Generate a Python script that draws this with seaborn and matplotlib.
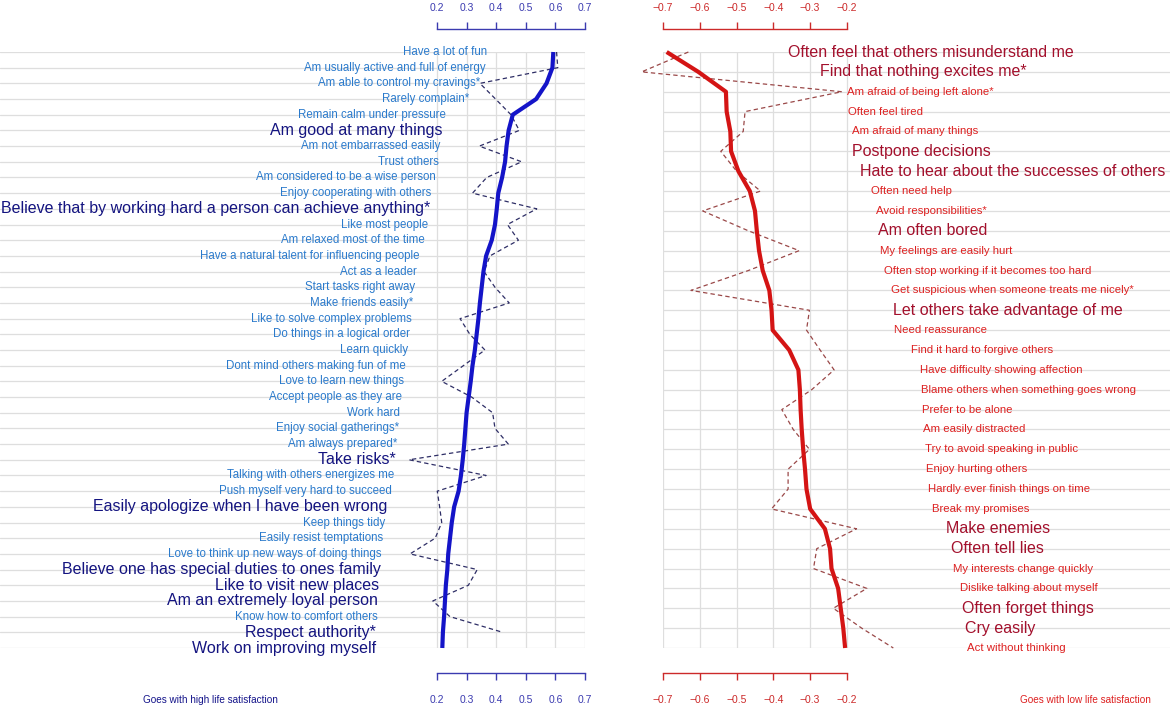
import numpy as np
import pandas as pd
import matplotlib
matplotlib.use("Agg")
import matplotlib.pyplot as plt
import seaborn as sns

sns.set_style("white")
plt.rcParams['font.family'] = ['Liberation Sans', 'DejaVu Sans']

# ---------------- data ----------------
left_labels = [
    "Have a lot of fun", "Am usually active and full of energy", "Am able to control my cravings*",
    "Rarely complain*", "Remain calm under pressure", "Am good at many things",
    "Am not embarrassed easily", "Trust others", "Am considered to be a wise person",
    "Enjoy cooperating with others", "Believe that by working hard a person can achieve anything*",
    "Like most people", "Am relaxed most of the time", "Have a natural talent for influencing people",
    "Act as a leader", "Start tasks right away", "Make friends easily*", "Like to solve complex problems",
    "Do things in a logical order", "Learn quickly", "Dont mind others making fun of me",
    "Love to learn new things", "Accept people as they are", "Work hard", "Enjoy social gatherings*",
    "Am always prepared*", "Take risks*", "Talking with others energizes me",
    "Push myself very hard to succeed", "Easily apologize when I have been wrong", "Keep things tidy",
    "Easily resist temptations", "Love to think up new ways of doing things",
    "Believe one has special duties to ones family", "Like to visit new places",
    "Am an extremely loyal person", "Know how to comfort others", "Respect authority*",
    "Work on improving myself",
]
left_main = [0.593, 0.590, 0.570, 0.535, 0.456, 0.442, 0.435, 0.430, 0.420, 0.407,
             0.402, 0.396, 0.385, 0.366, 0.357, 0.351, 0.345, 0.340, 0.334, 0.328,
             0.320, 0.314, 0.307, 0.300, 0.296, 0.292, 0.287, 0.281, 0.273, 0.258,
             0.250, 0.244, 0.238, 0.235, 0.230, 0.227, 0.224, 0.220, 0.218]
left_alt = [0.604, 0.608, 0.345, 0.398, 0.450, 0.478, 0.343, 0.486, 0.368, 0.320,
            0.537, 0.438, 0.475, 0.379, 0.359, 0.396, 0.444, 0.278, 0.311, 0.362,
            0.289, 0.216, 0.317, 0.388, 0.396, 0.441, 0.106, 0.366, 0.201, 0.209,
            0.216, 0.194, 0.109, 0.336, 0.306, 0.186, 0.244, 0.422, np.nan]
left_emph = [0, 0, 0, 0, 0, 1, 0, 0, 0, 0, 1, 0, 0, 0, 0, 0, 0, 0, 0, 0,
             0, 0, 0, 0, 0, 0, 1, 0, 0, 1, 0, 0, 0, 1, 1, 1, 0, 1, 1]
left_ticks = [0.2, 0.3, 0.4, 0.5, 0.6, 0.7]

right_labels = [
    "Often feel that others misunderstand me", "Find that nothing excites me*",
    "Am afraid of being left alone*", "Often feel tired", "Am afraid of many things",
    "Postpone decisions", "Hate to hear about the successes of others", "Often need help",
    "Avoid responsibilities*", "Am often bored", "My feelings are easily hurt",
    "Often stop working if it becomes too hard", "Get suspicious when someone treats me nicely*",
    "Let others take advantage of me", "Need reassurance", "Find it hard to forgive others",
    "Have difficulty showing affection", "Blame others when something goes wrong",
    "Prefer to be alone", "Am easily distracted", "Try to avoid speaking in public",
    "Enjoy hurting others", "Hardly ever finish things on time", "Break my promises",
    "Make enemies", "Often tell lies", "My interests change quickly",
    "Dislike talking about myself", "Often forget things", "Cry easily", "Act without thinking",
]
right_main = [-0.690, -0.604, -0.529, -0.527, -0.517, -0.515, -0.495, -0.464, -0.450, -0.445,
              -0.439, -0.429, -0.411, -0.405, -0.402, -0.357, -0.332, -0.328, -0.326, -0.323,
              -0.319, -0.314, -0.310, -0.300, -0.260, -0.246, -0.242, -0.224, -0.217, -0.210,
              -0.205]
right_alt = [-0.631, -0.758, -0.214, -0.477, -0.482, -0.543, -0.500, -0.435, -0.592, -0.468,
             -0.330, -0.468, -0.624, -0.302, -0.310, -0.273, -0.235, -0.296, -0.377, -0.346,
             -0.302, -0.360, -0.360, -0.405, -0.174, -0.282, -0.291, -0.146, -0.237, -0.160,
             -0.074]
right_emph = [1, 1, 0, 0, 0, 1, 1, 0, 0, 1, 0, 0, 0, 1, 0, 0, 0, 0, 0, 0,
              0, 0, 0, 0, 1, 1, 0, 0, 1, 1, 0]
right_ticks = [-0.7, -0.6, -0.5, -0.4, -0.3, -0.2]

left_note = "Goes with high life satisfaction"
right_note = "Goes with low life satisfaction"

# ---------------- styling ----------------
W, H = 1170, 712
fig = plt.figure(figsize=(W / 100, H / 100), dpi=100)
PX = 72 / 100  # points per pixel

y_top_px, y_bot_px = 52, 648
ax_bottom = (H - y_bot_px) / H
ax_height = (y_bot_px - y_top_px) / H

axL = fig.add_axes([0.0, ax_bottom, 585 / W, ax_height])
axR = fig.add_axes([663 / W, ax_bottom, (W - 663) / W, ax_height])

BLUE_AX = "#3b3bb0"
RED_AX = "#cc2a2a"
GRID = "#dedede"


def fmt(t):
    return f"{t:.1f}".replace("-", "\u2212")


def setup(ax, n, xlim, ticks, col):
    rows = np.arange(1, n + 1)
    ax.set_xlim(*xlim)
    ax.set_ylim(n, 1)
    ax.set_yticks(rows)
    ax.set_yticklabels([])
    ax.set_xticks(ticks)
    ax.set_xticklabels([fmt(t) for t in ticks])
    ax.grid(True, color=GRID, linewidth=0.9)
    ax.set_axisbelow(True)
    for s in ["left", "right", "top"]:
        ax.spines[s].set_visible(False)
    sp = ax.spines["bottom"]
    sp.set_visible(True)
    sp.set_position(("outward", 25 * PX))
    sp.set_bounds(ticks[0], ticks[-1])
    sp.set_color(col)
    sp.set_linewidth(1.0)
    ax.tick_params(axis="y", length=0)
    ax.tick_params(axis="x", top=False, bottom=True, labeltop=False, labelbottom=True,
                   direction="out", length=7 * PX, width=1.0, color=col, labelcolor=col,
                   labelsize=7.5, pad=15 * PX)
    ax.set_facecolor("none")

    sec = ax.secondary_xaxis("top")
    sec.set_xticks(ticks)
    sec.set_xticklabels([fmt(t) for t in ticks])
    sp2 = sec.spines["top"]
    sp2.set_position(("outward", 23 * PX))
    sp2.set_bounds(ticks[0], ticks[-1])
    sp2.set_color(col)
    sp2.set_linewidth(1.0)
    sec.tick_params(axis="x", direction="out", length=7 * PX, width=1.0, color=col,
                    labelcolor=col, labelsize=7.5, pad=9 * PX)
    return rows


rowsL = setup(axL, len(left_labels), (-1.276, 0.7), left_ticks, BLUE_AX)
rowsR = setup(axR, len(right_labels), (-0.7, 0.678), right_ticks, RED_AX)

dfL = pd.DataFrame({"row": rowsL, "main": left_main, "alt": left_alt})
dfR = pd.DataFrame({"row": rowsR, "main": right_main, "alt": right_alt})

sns.lineplot(data=dfL, x="alt", y="row", sort=False, estimator=None, ax=axL,
             color="#2e2e66", linewidth=0.9, linestyle=(0, (3.5, 2.5)), clip_on=False)
sns.lineplot(data=dfL, x="main", y="row", sort=False, estimator=None, ax=axL,
             color="#1414c8", linewidth=3.0, clip_on=False, solid_capstyle="butt")
sns.lineplot(data=dfR, x="alt", y="row", sort=False, estimator=None, ax=axR,
             color="#9a4848", linewidth=0.9, linestyle=(0, (3.5, 2.5)), clip_on=False)
sns.lineplot(data=dfR, x="main", y="row", sort=False, estimator=None, ax=axR,
             color="#d41414", linewidth=3.0, clip_on=False, solid_capstyle="butt")

for ax in (axL, axR):
    ax.set_xlabel("")
    ax.set_ylabel("")

# labels
for r, lab, v, e in zip(rowsL, left_labels, left_main, left_emph):
    axL.text(v - 0.225, r, lab, ha="right", va="center",
             fontsize=11.55 if e else 8.3,
             color="#141480" if e else "#2a7acc", clip_on=False)

for r, lab, v, e in zip(rowsR, right_labels, right_main, right_emph):
    axR.text(v + 0.33, r, lab, ha="left", va="center",
             fontsize=11.5 if e else 8.2,
             color="#a3102c" if e else "#dd2020", clip_on=False)

fig.text(210 / W, 1 - 700 / H, left_note, ha="center", va="center",
         fontsize=7.2, color="#14148a")
fig.text(1085 / W, 1 - 700 / H, right_note, ha="center", va="center",
         fontsize=7.2, color="#dd2020")

fig.savefig("out.png", dpi=100)
